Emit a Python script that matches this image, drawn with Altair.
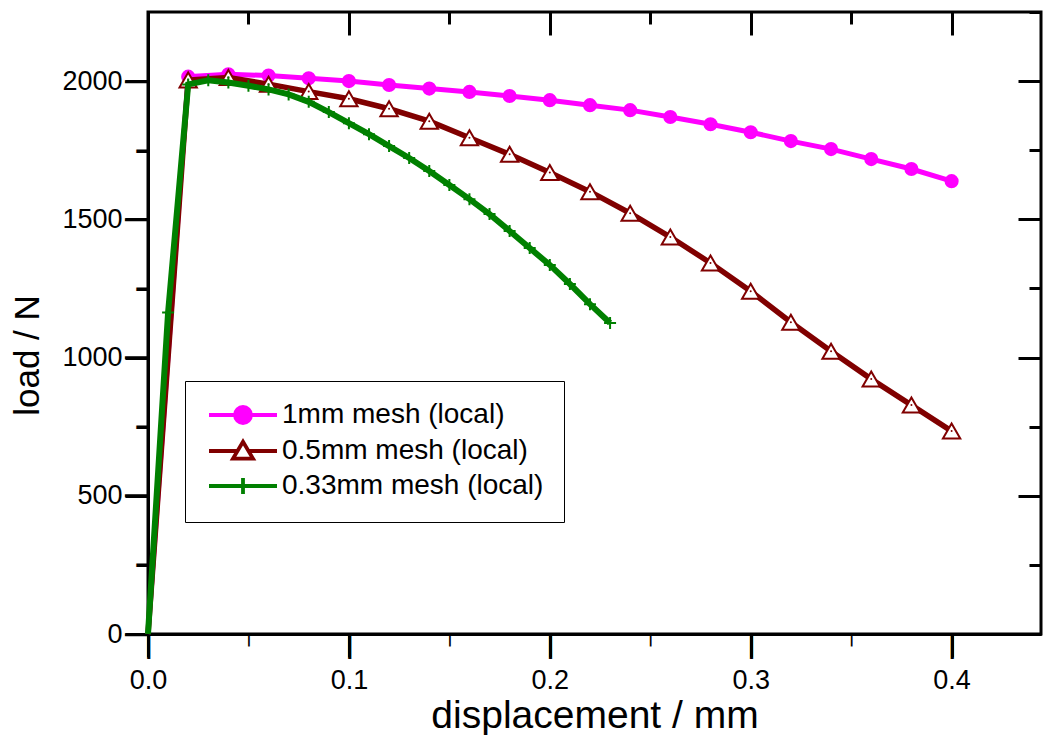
import altair as alt
import pandas as pd

# ---- data ----
series_names = ["1mm mesh (local)", "0.5mm mesh (local)", "0.33mm mesh (local)"]
series_colors = ["#ff00ff", "#800000", "#008000"]

disp_1mm = [0.0, 0.02, 0.04, 0.06, 0.08, 0.10, 0.12, 0.14, 0.16, 0.18, 0.20,
            0.22, 0.24, 0.26, 0.28, 0.30, 0.32, 0.34, 0.36, 0.38, 0.40]
load_1mm = [0, 2016, 2025, 2020, 2010, 2000, 1986, 1973, 1961, 1946, 1931,
            1913, 1895, 1870, 1844, 1815, 1783, 1754, 1718, 1682, 1638]

disp_05mm = [0.0, 0.02, 0.04, 0.06, 0.08, 0.10, 0.12, 0.14, 0.16, 0.18, 0.20,
             0.22, 0.24, 0.26, 0.28, 0.30, 0.32, 0.34, 0.36, 0.38, 0.40]
load_05mm = [0, 2004, 2013, 1989, 1962, 1936, 1900, 1855, 1795, 1735, 1669,
             1600, 1522, 1436, 1342, 1240, 1128, 1023, 922, 828, 734]

disp_033mm = [0.0, 0.01, 0.02, 0.03, 0.04, 0.05, 0.06, 0.07, 0.08, 0.09, 0.10, 0.11,
              0.12, 0.13, 0.14, 0.15, 0.16, 0.17, 0.18, 0.19, 0.20, 0.21, 0.22, 0.23]
load_033mm = [0, 1163, 1988, 2003, 1995, 1983, 1970, 1952, 1925, 1888, 1848, 1808,
              1765, 1722, 1675, 1624, 1573, 1519, 1458, 1396, 1335, 1266, 1193, 1125]

x_major = [0.0, 0.1, 0.2, 0.3, 0.4]
x_minor = [0.05, 0.15, 0.25, 0.35]
y_major = [0, 500, 1000, 1500, 2000]
y_minor = [250, 750, 1250, 1750, 2250]
y_minor_out = [250, 750, 1250, 1750]

FONT = "Liberation Sans"
GLYPH_FONT = "DejaVu Sans Mono"
W, H = 893, 622
MAJOR, MINOR = 23, 12

df1 = pd.DataFrame({"d": disp_1mm, "load": load_1mm})
df05 = pd.DataFrame({"d": disp_05mm, "load": load_05mm})
df033 = pd.DataFrame({"d": disp_033mm, "load": load_033mm})

xs = alt.Scale(domain=[0, 0.4445], nice=False, zero=False)
ys = alt.Scale(domain=[0, 2250], nice=False, zero=False)

def ax_common(**kw):
    base = dict(grid=False, ticks=True, tickColor="black", tickWidth=3, tickOpacity=1,
                domainColor="black", domainWidth=3, labelColor="black", titleColor="black")
    base.update(kw)
    return alt.Axis(**base)

# labelled axes
ax_bottom = ax_common(orient="bottom", values=x_major, format=".1f", tickSize=MAJOR,
                      labelFont=FONT, labelFontSize=27, labelPadding=10, labelFlush=False,
                      title="displacement / mm", titleFont=FONT, titleFontSize=39,
                      titleFontWeight="normal", titlePadding=3)
ax_left = ax_common(orient="left", values=y_major, format="d", tickSize=MAJOR,
                    labelFont=FONT, labelFontSize=27, labelPadding=3, labelFlush=False,
                    title="load / N", titleFont=FONT, titleFontSize=35,
                    titleFontWeight="normal", titlePadding=16, titleY=343)

# inward ticks on top / right
def tick_axis(orient, values, size, offset=0):
    return ax_common(orient=orient, values=values, tickSize=size, offset=offset,
                     labels=False, domain=False, title=None)

ax_top = tick_axis("top", x_major, MAJOR, -MAJOR)
ax_top_minor = tick_axis("top", x_minor, MINOR, -MINOR)
ax_right = tick_axis("right", y_major, MAJOR, -MAJOR)
ax_right_minor = tick_axis("right", y_minor, MINOR, -MINOR)

# outward ticks on bottom / left drawn as box-drawing glyph labels
def glyph_axis(orient, values, glyph, size, weight, align, baseline, padding, offset=0):
    return ax_common(orient=orient, values=values, ticks=False, tickSize=0, domain=False,
                     title=None, labelExpr="'" + glyph + "'", labelFont=GLYPH_FONT,
                     labelFontSize=size, labelFontWeight=weight, labelAlign=align,
                     labelBaseline=baseline, labelPadding=padding, labelOffset=offset,
                     labelOverlap=False, labelFlush=False)

ax_bot_glyph = glyph_axis("bottom", x_major, "\u2503", 20, "normal", "center", "top", 3)
ax_bot_glyph_minor = glyph_axis("bottom", x_minor, "\u2503", 10.5, "bold", "center", "top", 1.5)
ax_left_glyph = glyph_axis("left", y_major, "\u2500", 38, "normal", "right", "middle", 0, 2)
ax_left_glyph_minor = glyph_axis("left", y_minor_out, "\u2501", 20, "normal", "right", "middle", 0, 1)

def enc(chart, xaxis=None, yaxis=None):
    return chart.encode(
        x=alt.X("d:Q", scale=xs, axis=xaxis),
        y=alt.Y("load:Q", scale=ys, axis=yaxis),
    )

pts = lambda df: df[df["d"] > 0]

line1 = enc(alt.Chart(df1).mark_line(color=series_colors[0], strokeWidth=5), ax_bottom, ax_left)
point1 = enc(alt.Chart(pts(df1)).mark_point(shape="circle", filled=True, size=200,
                                             color=series_colors[0], opacity=1),
             ax_bot_glyph, ax_left_glyph)
line05 = enc(alt.Chart(df05).mark_line(color=series_colors[1], strokeWidth=5.5), ax_top, ax_right)
point05 = enc(alt.Chart(pts(df05)).mark_point(shape="triangle-up", filled=True, size=300,
                                               fill="white", stroke=series_colors[1],
                                               strokeWidth=2, opacity=1),
              ax_top_minor, ax_right_minor)
dot05 = enc(alt.Chart(pts(df05)).mark_point(shape="circle", filled=True, size=4,
                                             color=series_colors[1], opacity=1),
            ax_bot_glyph_minor, ax_left_glyph_minor)
line033 = enc(alt.Chart(df033).mark_line(color=series_colors[2], strokeWidth=6))
point033 = enc(alt.Chart(pts(df033)).mark_point(shape="M-1,0H1M0,-1V1", filled=False, size=144,
                                                 stroke=series_colors[2], strokeWidth=2,
                                                 opacity=1))

# legend carrier: invisible points (opacity 0) at the common origin
legend_df = pd.DataFrame({"series": series_names, "d": [0.0, 0.0, 0.0], "load": [0, 0, 0]})
legend_shapes = [
    "M-4.25,0H-1M1,0H4.25M-1,0A1,1,0,1,0,1,0A1,1,0,1,0,-1,0Z",
    "M-4.25,0H-0.68M0.68,0H4.25M0,-1.15L1.25,0.95L-1.25,0.95Z",
    "M-4.25,0H4.25M0,-1V1",
]
legend_fills = ["#ff00ff", "white", "transparent"]
leg = alt.Legend(title=None, orient="none", legendX=37, legendY=369, padding=20,
                 strokeColor="black", fillColor="white", labelFont=FONT, labelFontSize=28,
                 labelColor="black", labelLimit=500, symbolSize=256, symbolStrokeWidth=3.8,
                 symbolOpacity=1, symbolOffset=24, labelOffset=25, rowPadding=3)
legend_layer = alt.Chart(legend_df).mark_point(opacity=0, strokeWidth=3.8).encode(
    x=alt.X("d:Q", scale=xs, axis=None),
    y=alt.Y("load:Q", scale=ys, axis=None),
    shape=alt.Shape("series:N", scale=alt.Scale(domain=series_names, range=legend_shapes), legend=leg),
    fill=alt.Fill("series:N", scale=alt.Scale(domain=series_names, range=legend_fills), legend=leg),
    stroke=alt.Stroke("series:N", scale=alt.Scale(domain=series_names, range=series_colors), legend=leg),
)

chart = alt.layer(
    line1, point1, line05, point05, dot05, line033, point033, legend_layer
).resolve_axis(x="independent", y="independent").properties(
    width=W, height=H,
    padding={"left": 10, "top": 10, "right": 0, "bottom": 0},
    background="white",
).configure_view(stroke="black", strokeWidth=3)

chart.save("out.html", embed_options={"renderer": "svg", "actions": False})
